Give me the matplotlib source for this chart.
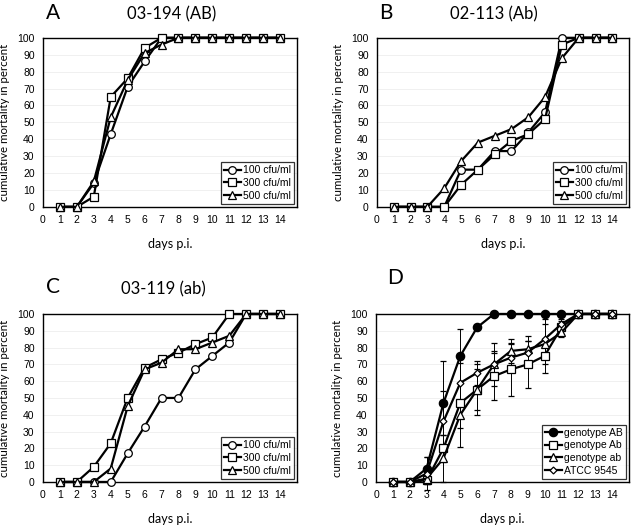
import numpy as np
import matplotlib.pyplot as plt
from matplotlib.lines import Line2D

days = np.arange(1, 15)

# panel A, 03-194 (AB)
a_100 = [0, 0, 14, 43, 71, 86, 100, 100, 100, 100, 100, 100, 100, 100]
a_300 = [0, 0, 6, 65, 76, 94, 100, 100, 100, 100, 100, 100, 100, 100]
a_500 = [0, 0, 15, 53, 75, 91, 96, 100, 100, 100, 100, 100, 100, 100]

# panel B, 02-113 (Ab)
b_100 = [0, 0, 0, 0, 22, 22, 33, 33, 44, 56, 100, 100, 100, 100]
b_300 = [0, 0, 0, 0, 13, 22, 31, 39, 43, 52, 96, 100, 100, 100]
b_500 = [0, 0, 0, 11, 27, 38, 42, 46, 53, 65, 88, 100, 100, 100]

# panel C, 03-119 (ab)
c_100 = [0, 0, 0, 0, 17, 33, 50, 50, 67, 75, 83, 100, 100, 100]
c_300 = [0, 0, 9, 23, 50, 68, 73, 77, 82, 86, 100, 100, 100, 100]
c_500 = [0, 0, 0, 8, 45, 67, 71, 79, 79, 83, 87, 100, 100, 100]

# panel D, genotype means with error bars
d_AB = [0, 0, 8, 47, 75, 92, 100, 100, 100, 100, 100, 100, 100, 100]
d_Ab = [0, 0, 1, 20, 47, 55, 63, 67, 70, 75, 92, 100, 100, 100]
d_ab = [0, 0, 2, 14, 40, 55, 70, 78, 79, 82, 89, 100, 100, 100]
d_atcc = [0, 0, 5, 36, 59, 65, 70, 74, 77, 85, 94, 100, 100, 100]
e_AB = [0, 0, 7, 25, 16, 0, 0, 0, 0, 0, 0, 0, 0, 0]
e_Ab = [0, 0, 2, 8, 26, 15, 14, 16, 14, 10, 4, 0, 0, 0]
e_ab = [0, 0, 3, 14, 8, 12, 13, 7, 8, 12, 3, 0, 0, 0]
e_atcc = [0, 0, 10, 18, 12, 7, 8, 8, 7, 12, 3, 0, 0, 0]

doses = ['100 cfu/ml', '300 cfu/ml', '500 cfu/ml']
markers = ['o', 's', '^']

tick_font = 'Liberation Sans'
label_font = 'Lato'


def style_axes(ax):
    ax.set_xlim(0, 15)
    ax.set_ylim(0, 100)
    ax.set_xticks(np.arange(0, 15))
    ax.set_yticks(np.arange(0, 101, 10))
    ax.tick_params(length=0, labelsize=7.5, pad=6)
    for lab in ax.get_xticklabels() + ax.get_yticklabels():
        lab.set_family(tick_font)
    ax.grid(axis='y', color='#eeeeee', lw=0.6)
    ax.set_axisbelow(True)
    for s in ax.spines.values():
        s.set_linewidth(1.0)
    ax.set_xlabel('days p.i.', family=label_font, fontsize=9, labelpad=9)
    ax.set_ylabel('cumulative mortality in percent', family=label_font,
                  fontsize=8.3, labelpad=5)


def add_legend(ax, handles):
    leg = ax.legend(handles=handles, loc='lower right', frameon=True,
                    fancybox=False, edgecolor='black', handlelength=1.6,
                    borderaxespad=0.3, labelspacing=0.25, handletextpad=0.2,
                    borderpad=0.3, prop={'family': tick_font, 'size': 7.5})
    leg.get_frame().set_linewidth(0.9)


def dose_panel(ax, series):
    handles = []
    for vals, m, lab in zip(series, markers, doses):
        h, = ax.plot(days, vals, color='black', lw=1.6, marker=m, ms=5.5,
                     mfc='white', mec='black', mew=0.9, label=lab,
                     clip_on=False, zorder=3)
        handles.append(h)
    style_axes(ax)
    add_legend(ax, handles)


fig = plt.figure(figsize=(6.32, 5.25), dpi=100)
axA = fig.add_axes([0.068, 0.606, 0.402, 0.322])
axB = fig.add_axes([0.5965, 0.606, 0.399, 0.322])
axC = fig.add_axes([0.068, 0.082, 0.402, 0.32])
axD = fig.add_axes([0.595, 0.082, 0.4, 0.32])

dose_panel(axA, [a_100, a_300, a_500])
dose_panel(axB, [b_100, b_300, b_500])
dose_panel(axC, [c_100, c_300, c_500])

d_series = [(d_AB, e_AB, 'o', 'black', 6, 'genotype AB'),
            (d_Ab, e_Ab, 's', 'white', 5.5, 'genotype Ab'),
            (d_ab, e_ab, '^', 'white', 5.5, 'genotype ab'),
            (d_atcc, e_atcc, 'D', 'white', 3.5, 'ATCC 9545')]
d_handles = []
for vals, err, m, fc, ms, lab in d_series:
    axD.errorbar(days, vals, yerr=err, color='black', lw=1.6, marker=m, ms=ms,
                 mfc=fc, mec='black', mew=0.9, ecolor='black', elinewidth=0.7,
                 capsize=2.5, capthick=0.7, clip_on=False, zorder=3)
    d_handles.append(Line2D([], [], color='black', lw=1.6, marker=m, ms=ms,
                            mfc=fc, mec='black', mew=0.9, label=lab))
style_axes(axD)
add_legend(axD, d_handles)

# panel letters and titles
fig.text(0.072, 0.975, 'A', family=label_font, fontsize=15, va='center')
fig.text(0.272, 0.973, '03-194 (AB)', family=label_font, fontsize=12,
         ha='center', va='center')
fig.text(0.6, 0.975, 'B', family=label_font, fontsize=15, va='center')
fig.text(0.782, 0.973, '02-113 (Ab)', family=label_font, fontsize=12,
         ha='center', va='center')
fig.text(0.072, 0.453, 'C', family=label_font, fontsize=15, va='center')
fig.text(0.258, 0.449, '03-119 (ab)', family=label_font, fontsize=12,
         ha='center', va='center')
fig.text(0.612, 0.47, 'D', family=label_font, fontsize=15, va='center')

fig.savefig('out.png', dpi=100)
